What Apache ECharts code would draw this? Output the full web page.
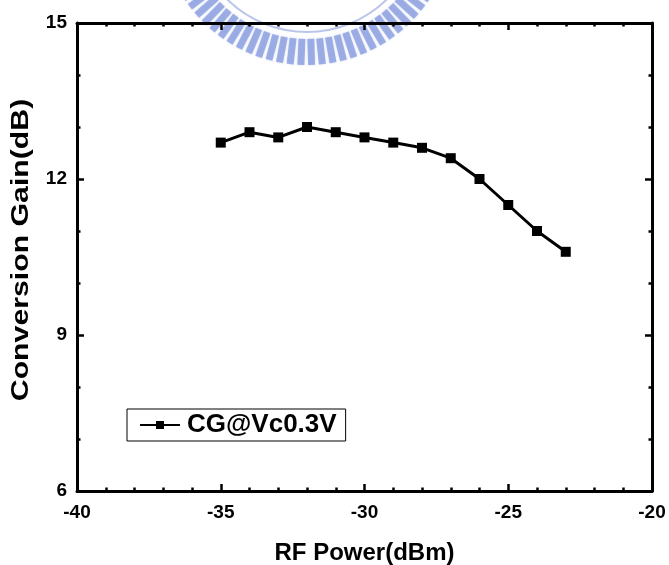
<!DOCTYPE html>
<html>
<head>
<meta charset="utf-8">
<script src="https://cdn.jsdelivr.net/npm/echarts@6/dist/echarts.min.js"></script>
<style>
  html, body { margin: 0; padding: 0; background: #fff; }
  #chart { width: 669px; height: 565px; }
</style>
</head>
<body>
<div id="chart"></div>
<script>
// RF input power sweep (dBm) and measured conversion gain (dB)
const rfPower = [-35, -34, -33, -32, -31, -30, -29, -28, -27, -26, -25, -24, -23];
const conversionGain = [12.7, 12.9, 12.8, 13.0, 12.9, 12.8, 12.7, 12.6, 12.4, 12.0, 11.5, 11.0, 10.6];
const seriesName = 'CG@Vc0.3V';
const xTitle = 'RF Power(dBm)';
const yTitle = 'Conversion Gain(dB)';
const xRange = [-40, -20];
const yRange = [6, 15];

const FONT = '"Liberation Sans", Arial, sans-serif';

// faint seal emblem behind the top of the frame: a ring of radial teeth
function emblem() {
  const cx = 307, cy = -82, r0 = 121, r1 = 147, half = 1.35 * Math.PI / 180;
  const children = [];
  for (let deg = 0; deg < 360; deg += 4.2) {
    const a = deg * Math.PI / 180;
    const p = (r, t) => [cx + r * Math.cos(t), cy + r * Math.sin(t)];
    children.push({
      type: 'polygon',
      shape: { points: [p(r0, a - half * 1.2), p(r1, a - half), p(r1, a + half), p(r0, a + half * 1.2)] },
      style: { fill: '#93a5e2', opacity: 0.85, shadowBlur: 2, shadowColor: 'rgba(140,160,225,0.6)' },
      silent: true
    });
  }
  children.push({
    type: 'circle',
    shape: { cx: cx, cy: cy, r: 114 },
    style: { fill: 'none', stroke: '#bcc6ea', lineWidth: 2 },
    silent: true
  });
  return { type: 'group', z: -10, children: children };
}

// vertical axis title, drawn as text stretched along its length
function yAxisTitle() {
  return {
    type: 'text',
    x: 21, y: 250,
    rotation: Math.PI / 2,
    scaleX: 1.26,
    z: 10,
    style: {
      text: yTitle,
      font: 'bold 24px ' + FONT,
      fill: '#000',
      align: 'center',
      verticalAlign: 'middle'
    },
    silent: true
  };
}

const axisCommon = {
  type: 'value',
  axisLine: { show: true, onZero: false, lineStyle: { color: '#000', width: 3 } },
  axisTick: { show: true, inside: true, length: 7, lineStyle: { color: '#000', width: 2.5 } },
  minorTick: { show: true, length: 3.5, lineStyle: { color: '#000', width: 2.5 } },
  splitLine: { show: false }
};

const chart = echarts.init(document.getElementById('chart'), null, { renderer: 'canvas' });
chart.setOption({
  backgroundColor: '#fff',
  animation: false,
  graphic: [emblem(), yAxisTitle()],
  grid: { left: 77, right: 17, top: 23, bottom: 74, containLabel: false, outerBoundsMode: 'none' },
  legend: {
    data: [seriesName],
    left: 127, top: 409,
    orient: 'horizontal',
    backgroundColor: '#fff',
    borderColor: '#000', borderWidth: 1, borderRadius: 0,
    padding: [3, 9, 3, 12],
    itemWidth: 40, itemHeight: 10, itemGap: 0,
    textStyle: { fontFamily: FONT, fontWeight: 'bold', fontSize: 26, color: '#000', padding: [0, 0, 0, 2] }
  },
  xAxis: [
    Object.assign({}, axisCommon, {
      position: 'bottom', min: xRange[0], max: xRange[1], interval: 5,
      minorTick: Object.assign({}, axisCommon.minorTick, { splitNumber: 5 }),
      name: xTitle, nameLocation: 'middle', nameGap: 50,
      nameTextStyle: { fontFamily: FONT, fontWeight: 'bold', fontSize: 24, color: '#000' },
      axisLabel: { margin: 12, fontFamily: FONT, fontWeight: 'bold', fontSize: 19, color: '#000' }
    }),
    Object.assign({}, axisCommon, {
      position: 'top', min: xRange[0], max: xRange[1], interval: 5,
      minorTick: Object.assign({}, axisCommon.minorTick, { splitNumber: 5 }),
      axisLabel: { show: false }
    })
  ],
  yAxis: [
    Object.assign({}, axisCommon, {
      position: 'left', min: yRange[0], max: yRange[1], interval: 3,
      minorTick: Object.assign({}, axisCommon.minorTick, { splitNumber: 3 }),
      axisLabel: { margin: 10, fontFamily: FONT, fontWeight: 'bold', fontSize: 19, color: '#000' }
    }),
    Object.assign({}, axisCommon, {
      position: 'right', min: yRange[0], max: yRange[1], interval: 3,
      minorTick: Object.assign({}, axisCommon.minorTick, { splitNumber: 3 }),
      axisLabel: { show: false }
    })
  ],
  series: [{
    name: seriesName,
    type: 'line',
    data: rfPower.map((x, i) => [x, conversionGain[i]]),
    symbol: 'rect',
    symbolSize: 10,
    showAllSymbol: true,
    lineStyle: { color: '#000', width: 3 },
    itemStyle: { color: '#000', borderWidth: 0 },
    z: 5
  }]
});
</script>
</body>
</html>
